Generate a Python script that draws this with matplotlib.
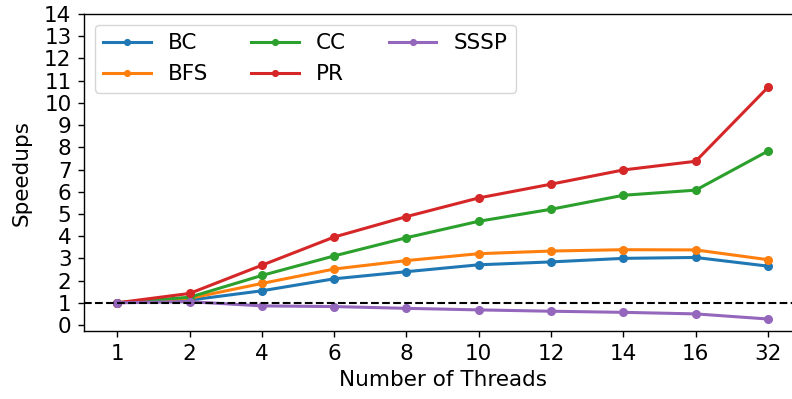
import matplotlib
matplotlib.use("Agg")
import matplotlib.pyplot as plt
import numpy as np

threads = ["1", "2", "4", "6", "8", "10", "12", "14", "16", "32"]
bc = [1.0, 1.12, 1.54, 2.08, 2.40, 2.71, 2.84, 3.00, 3.04, 2.65]
bfs = [1.0, 1.20, 1.87, 2.52, 2.90, 3.21, 3.33, 3.39, 3.38, 2.94]
cc = [1.0, 1.25, 2.23, 3.11, 3.93, 4.67, 5.21, 5.84, 6.07, 7.83]
pr = [1.0, 1.42, 2.69, 3.96, 4.88, 5.72, 6.34, 6.98, 7.37, 10.70]
sssp = [1.0, 1.05, 0.86, 0.83, 0.75, 0.68, 0.62, 0.57, 0.50, 0.27]

W, H = 792, 399
fig = plt.figure(figsize=(W / 100, H / 100), dpi=100)
left, right_px, top, bottom = 84, 84 + 9.92 * 72.3, 14, 331
ax = fig.add_axes([left / W, 1 - bottom / H, (right_px - left) / W, (bottom - top) / H])
x = np.arange(len(threads))
ms = 5.5
ax.plot(x, bc, marker='o', markersize=ms, lw=2.2, color='#1f77b4', label='BC')
ax.plot(x, bfs, marker='o', markersize=ms, lw=2.2, color='#ff7f0e', label='BFS')
ax.plot(x, cc, marker='o', markersize=ms, lw=2.2, color='#2ca02c', label='CC')
ax.plot(x, pr, marker='o', markersize=ms, lw=2.2, color='#d62728', label='PR')
ax.plot(x, sssp, marker='o', markersize=ms, lw=2.2, color='#9467bd', label='SSSP')
ax.axhline(1, color='black', ls='--', lw=1.5)
ax.set_xticks(x)
ax.set_xticklabels(threads)
ax.set_yticks(range(0, 15))
ax.tick_params(axis='both', labelsize=15.5, length=4.5, width=1, pad=4.5)
for s in ax.spines.values():
    s.set_linewidth(1.0)
ax.set_ylim(-0.27, 14)
ax.set_xlim(-0.46, 9.46)
ax.set_xlabel("Number of Threads", fontsize=15.5, labelpad=5)
ax.set_ylabel("Speedups", fontsize=15.5, labelpad=9)
ax.legend(ncol=3, fontsize=15.5, loc='upper left', markerscale=0.75,
          handlelength=2.2, columnspacing=2.0, borderaxespad=0.5)
fig.savefig("out.png", dpi=100)
